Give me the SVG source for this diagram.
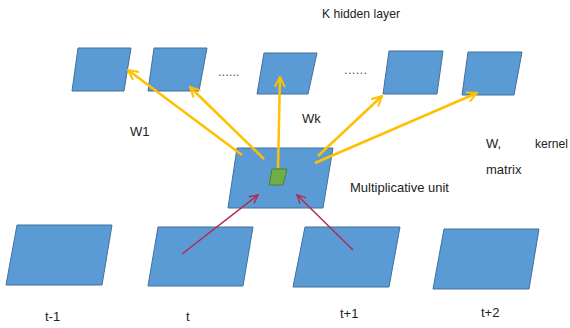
<svg xmlns="http://www.w3.org/2000/svg" width="570" height="328" viewBox="0 0 570 328">
<style>
.box{fill:#5B9BD5;stroke:#41719C;stroke-width:1}
.unit{fill:#70AD47;stroke:#507E32;stroke-width:1}
.lbl{font-family:"Liberation Sans",Arial,sans-serif;font-size:13px;fill:#222}
.dots{font-family:"Liberation Sans",Arial,sans-serif;font-size:13px;fill:#555}
.ya{fill:none;stroke:#FFC000;stroke-width:2.5;marker-end:url(#ay)}
.ra{fill:none;stroke:#B52A4E;stroke-width:1.5;marker-end:url(#ar)}
</style>
<defs>
<marker id="ay" viewBox="0 0 10 10" refX="9" refY="5" markerWidth="5" markerHeight="5" orient="auto" markerUnits="strokeWidth">
<path d="M1,1 L9,5 L1,9" fill="none" stroke="#FFC000" stroke-width="1.6"/>
</marker>
<marker id="ar" viewBox="0 0 10 10" refX="9" refY="5" markerWidth="7" markerHeight="7" orient="auto" markerUnits="strokeWidth">
<path d="M1,1 L9,5 L1,9" fill="none" stroke="#B52A4E" stroke-width="1.4"/>
</marker>
</defs>
<rect width="570" height="328" fill="#fff"/>
<text class="lbl" x="322" y="18" textLength="78" lengthAdjust="spacingAndGlyphs">K hidden layer</text>
<g id="hidden1"><polygon class="box" points="78,48 131,48 124,91 72,91"/></g>
<g id="hidden2"><polygon class="box" points="154,48 207,48 199,91 148,91"/></g>
<text class="dots" x="218" y="76">......</text>
<g id="hidden3"><polygon class="box" points="264,53 317,53 308,94 257,94"/></g>
<text class="dots" x="344" y="74" textLength="23">......</text>
<g id="hidden4"><polygon class="box" points="389,51 443,51 437,94 383,94"/></g>
<g id="hidden5"><polygon class="box" points="468,52 522,52 514,95 462,95"/></g>
<text class="lbl" x="130" y="136">W1</text>
<text class="lbl" x="302" y="123">Wk</text>
<text class="lbl" x="486" y="148">W,</text>
<text class="lbl" x="535" y="148" textLength="33" lengthAdjust="spacingAndGlyphs">kernel</text>
<text class="lbl" x="486" y="174">matrix</text>
<g id="mult-unit">
<polygon class="box" points="237,148 333,148 323,208 228,208"/>
<polygon class="unit" points="272,169 287,169 283,185 269,185"/>
</g>
<text class="lbl" x="350" y="192">Multiplicative unit</text>
<g id="input-t-1"><polygon class="box" points="17,225 112,225 102,285 6,285"/></g>
<g id="input-t"><polygon class="box" points="158,227 253,227 243,286 148,286"/></g>
<g id="input-t1"><polygon class="box" points="305,227 400,227 389,287 293,287"/></g>
<g id="input-t2"><polygon class="box" points="444,229 539,229 529,289 433,289"/></g>
<text class="lbl" x="45" y="321">t-1</text>
<text class="lbl" x="186" y="321">t</text>
<text class="lbl" x="340" y="318">t+1</text>
<text class="lbl" x="481" y="317">t+2</text>
<g id="connectors">
<line class="ya" x1="242" y1="155" x2="128" y2="70"/>
<line class="ya" x1="264" y1="159" x2="190" y2="87"/>
<line class="ya" x1="278" y1="168" x2="280" y2="77"/>
<line class="ya" x1="318" y1="156" x2="382" y2="96"/>
<line class="ya" x1="315" y1="163" x2="477" y2="93"/>
<line class="ra" x1="182" y1="254" x2="258" y2="195"/>
<line class="ra" x1="353" y1="250" x2="297" y2="195"/>
</g>
</svg>
